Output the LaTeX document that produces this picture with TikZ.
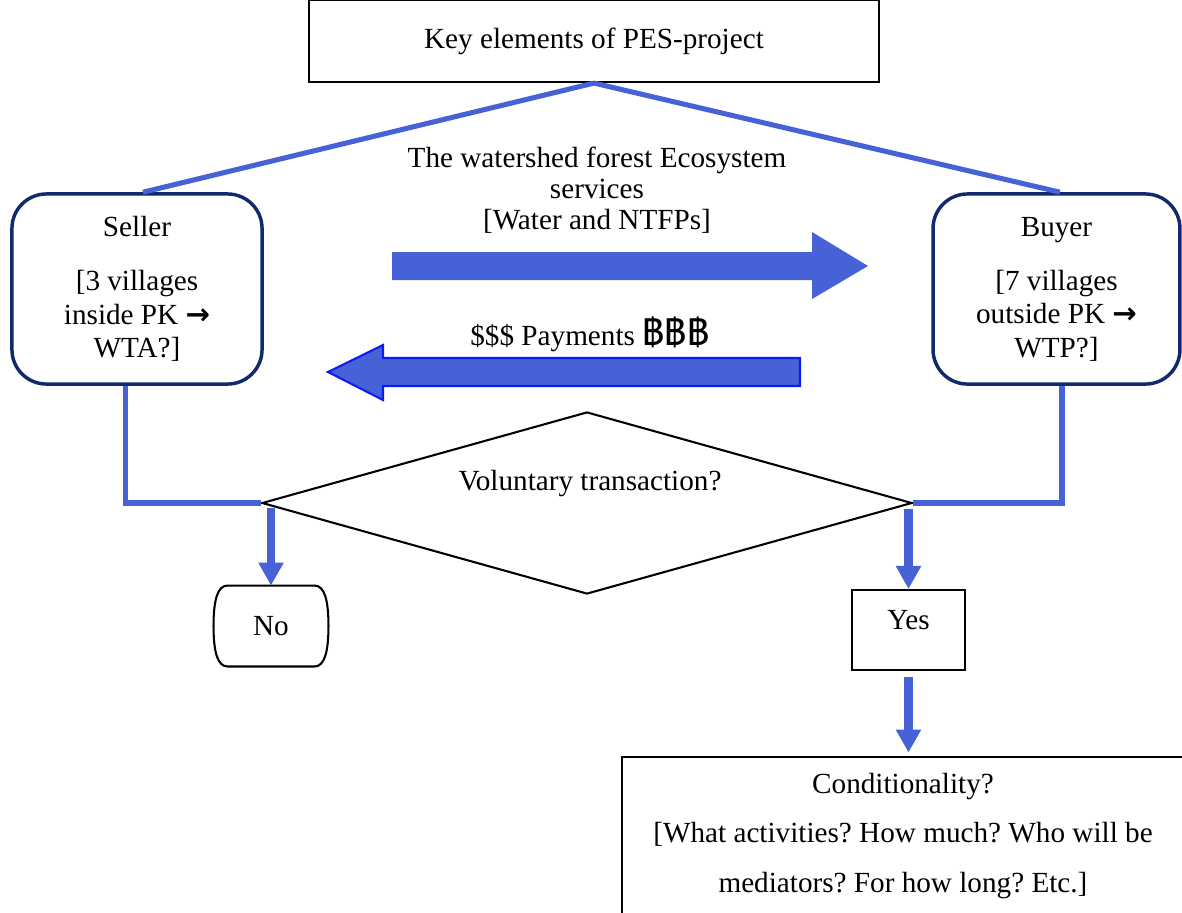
\documentclass[tikz,border=0pt]{standalone}
\usepackage{fontspec}
\setmainfont{Liberation Serif}
\newfontfamily\thaifont[Script=Thai]{Loma}
\newfontfamily\arrowfont{DejaVu Sans}
\usetikzlibrary{arrows.meta,calc,shapes.geometric}
\definecolor{pesblue}{HTML}{4662D6}
\definecolor{pesnavy}{HTML}{102A6B}
\definecolor{pesedge}{HTML}{0A1EF0}
\frenchspacing
\tikzset{
pes text/.style={font=\fontsize{12.7}{14.6}\selectfont, align=center, inner sep=0pt},
plain box/.style={pes text, draw=black, line width=0.9pt},
party box/.style={
  pes text,
  draw=pesnavy,
  line width=1.5pt,
  rounded corners=15pt,
  minimum height=82.7pt
},
link line/.style={draw=pesblue, line width=2.2pt},
flow arrow/.style={
  draw=pesblue,
  line width=3.5pt,
  -{Triangle[width=10.4pt,length=10pt]}
},
block arrow/.style={fill=pesblue}
}

\begin{document}
\begin{tikzpicture}[x=0.435pt,y=-0.435pt]
\useasboundingbox (0,0) rectangle (1182,912);
% top title and the two parties
\node[plain box, minimum width=248pt, minimum height=35.7pt] (key) at (594,41) {Key elements of PES-project};
\node[party box, minimum width=108.8pt] (seller) at (137,289)
  {Seller\\[8.9pt]{[}3 villages\\inside PK {\arrowfont\bfseries →}\\WTA?]};
\node[party box, minimum width=107.4pt] (buyer) at (1056.5,289)
  {Buyer\\[8.9pt]{[}7 villages\\outside PK {\arrowfont\bfseries →}\\WTP?]};
\draw[link line] (key.south) -- ([xshift=2.6pt]seller.north);
\draw[link line] (key.south) -- ([xshift=1.5pt]buyer.north);
% services and payments
\node[pes text, font=\fontsize{12.7}{13.6}\selectfont] (services) at (597,190)
  {The watershed forest Ecosystem\\services\\{[}Water and NTFPs]};
\fill[block arrow] (392,252) -- (812,252) -- (812,232) -- (868,266) -- (812,299) -- (812,280) -- (392,280) -- cycle;
\node[pes text] (payments) at (590,334) {\$\$\$ Payments {\thaifont\fontsize{16}{16}\selectfont ฿฿฿}};
\filldraw[block arrow, draw=pesedge, line width=0.9pt] (800,358) -- (383,358) -- (383,345) -- (328,372) -- (383,400) -- (383,386) -- (800,386) -- cycle;
% decision
\node[diamond, draw=black, line width=0.9pt, aspect=3.57, inner sep=0pt,
  minimum width=282.8pt, minimum height=79.2pt] (vt) at (587,503) {};
\node[pes text] (vtlabel) at (590,484) {Voluntary transaction?};
\draw[link line] ([xshift=-4.8pt]seller.south) |- (vt.west);
\draw[link line] ([xshift=2.4pt]buyer.south) |- (vt.east);
\node[pes text, minimum width=49.6pt, minimum height=34.8pt] (no) at (271,626) {No};
\draw[black, line width=0.9pt]
  ($(no.north west)+(14,0)$) -- ($(no.north east)+(-14,0)$)
  .. controls ($(no.north east)+(-4,0)$) and ($(no.east)+(0,-26)$) .. (no.east)
  .. controls ($(no.east)+(0,26)$) and ($(no.south east)+(-4,0)$) .. ($(no.south east)+(-14,0)$)
  -- ($(no.south west)+(14,0)$)
  .. controls ($(no.south west)+(4,0)$) and ($(no.west)+(0,26)$) .. (no.west)
  .. controls ($(no.west)+(0,-26)$) and ($(no.north west)+(4,0)$) .. cycle;
\node[plain box, minimum width=49.2pt, minimum height=34.8pt, text depth=9pt] (yes) at (908.5,630) {Yes};
\node[plain box, font=\fontsize{12.7}{21.5}\selectfont, minimum width=244.5pt, minimum height=68.7pt] (cond) at (903,836)
  {Conditionality?\\{[}What activities? How much? Who will be\\mediators? For how long? Etc.]};
\draw[flow arrow] ([yshift=-2.2pt]vt.west -| no.north) -- (no.north);
\draw[flow arrow] ([yshift=-2.6pt]vt.east -| yes.north) -- (yes.north);
\draw[flow arrow, shorten <=2.6pt, shorten >=1.5pt] (yes.south) -- (yes.south |- cond.north);
\end{tikzpicture}
\end{document}
